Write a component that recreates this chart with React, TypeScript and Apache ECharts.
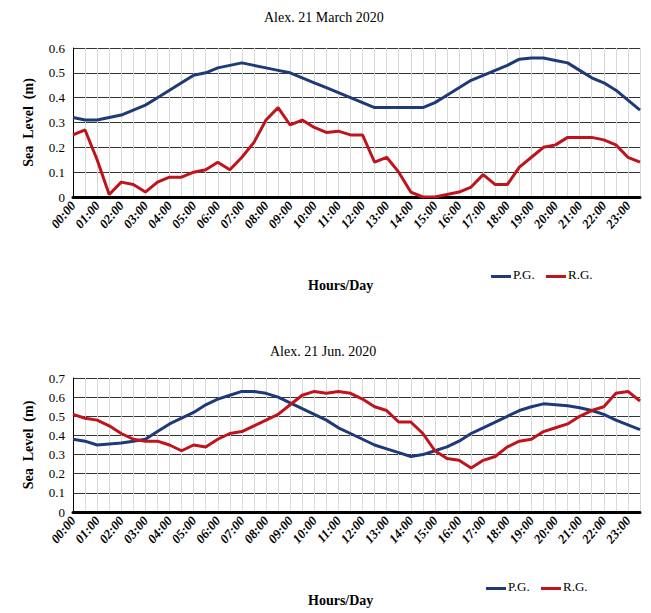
import React, { useEffect, useRef } from "react";
import * as echarts from "echarts";

const times: string[] = [];
for (let h = 0; h < 24; h++) { const hh = String(h).padStart(2, "0"); times.push(hh + ":00", hh + ":30"); }

const marchPG = [0.32,0.31,0.31,0.32,0.33,0.35,0.37,0.40,0.43,0.46,0.49,0.50,0.52,0.53,0.54,0.53,0.52,0.51,0.50,0.48,0.46,0.44,0.42,0.40,0.38,0.36,0.36,0.36,0.36,0.36,0.38,0.41,0.44,0.47,0.49,0.51,0.53,0.555,0.56,0.56,0.55,0.54,0.51,0.48,0.46,0.43,0.39,0.35];
const marchRG = [0.25,0.27,0.15,0.01,0.06,0.05,0.02,0.06,0.08,0.08,0.10,0.11,0.14,0.11,0.16,0.22,0.31,0.36,0.29,0.31,0.28,0.26,0.265,0.25,0.25,0.14,0.16,0.10,0.02,0.00,0.00,0.01,0.02,0.04,0.09,0.05,0.05,0.12,0.16,0.20,0.21,0.24,0.24,0.24,0.23,0.21,0.16,0.14];
const junePG = [0.38,0.37,0.35,0.355,0.36,0.37,0.38,0.42,0.46,0.49,0.52,0.56,0.59,0.61,0.63,0.63,0.62,0.60,0.57,0.54,0.51,0.48,0.44,0.41,0.38,0.35,0.33,0.31,0.29,0.30,0.32,0.34,0.37,0.41,0.44,0.47,0.50,0.53,0.55,0.565,0.56,0.555,0.545,0.53,0.51,0.48,0.455,0.43];
const juneRG = [0.51,0.49,0.48,0.45,0.41,0.38,0.37,0.37,0.35,0.32,0.35,0.34,0.38,0.41,0.42,0.45,0.48,0.51,0.56,0.61,0.63,0.62,0.63,0.62,0.59,0.55,0.53,0.47,0.47,0.41,0.32,0.28,0.27,0.23,0.27,0.29,0.34,0.37,0.38,0.42,0.44,0.46,0.50,0.53,0.55,0.62,0.63,0.58];

const FONT = "Liberation Serif";
const BLUE = "#1f3a78";
const RED = "#c0141c";

export default function App() {
  const ref = useRef<HTMLDivElement>(null);
  useEffect(() => {
    document.body.style.overflow = "hidden";
    const chart = echarts.init(ref.current!, undefined, { renderer: "svg" });
    const xAxis = (gi: number) => ({
      type: "category", gridIndex: gi, data: times, boundaryGap: false,
      axisLine: { lineStyle: { color: "#000", width: 3 } },
      axisTick: { show: false },
      splitLine: { show: true, interval: 0, lineStyle: { color: "#d8d8d8", width: 1 } },
      axisLabel: { interval: 1, rotate: 50, fontFamily: FONT, fontStyle: "italic", fontWeight: "bold", fontSize: 13, color: "#000", margin: 6 },
    });
    const yAxis = (gi: number, max: number) => ({
      type: "value", gridIndex: gi, min: 0, max, interval: 0.1,
      name: "Sea  Level  (m)", nameLocation: "middle", nameGap: 38,
      nameTextStyle: { fontFamily: FONT, fontWeight: "bold", fontSize: 14, color: "#000" },
      axisLine: { show: true, lineStyle: { color: "#000" } },
      axisTick: { show: false },
      splitLine: { lineStyle: { color: "#333", width: 1 } },
      axisLabel: { fontFamily: FONT, fontSize: 13, color: "#000", formatter: (v: number) => String(Math.round(v * 10) / 10) },
    });
    const line = (name: string, xi: number, data: number[], color: string) => ({
      type: "line", name, xAxisIndex: xi, yAxisIndex: xi, data, showSymbol: false, symbol: "none",
      lineStyle: { color, width: 3 }, itemStyle: { color },
    });
    const text = (t: string, x: number, y: number, size: number, bold = false) => ({
      type: "text", left: x, top: y,
      style: { text: t, fontFamily: FONT, fontSize: size, fontWeight: bold ? "bold" : "normal", fill: "#000" },
    });
    const legend = (x: number, y: number) => [
      { type: "rect", left: x, top: y + 7, shape: { width: 20, height: 3 }, style: { fill: BLUE } },
      text("P.G.", x + 22, y, 13),
      { type: "rect", left: x + 55, top: y + 7, shape: { width: 20, height: 3 }, style: { fill: RED } },
      text("R.G.", x + 77, y, 13),
    ];
    chart.setOption({
      animation: false,
      grid: [
        { left: 65, right: 3, top: 40, height: 149 },
        { left: 65, right: 3, top: 370, height: 134 },
      ],
      xAxis: [xAxis(0), xAxis(1)],
      yAxis: [yAxis(0, 0.6), yAxis(1, 0.7)],
      graphic: [
        text("Alex. 21 March 2020", 256, 2, 14),
        text("Alex. 21 Jun. 2020", 262, 336, 14),
        text("Hours/Day", 300, 270, 14, true),
        text("Hours/Day", 300, 585, 14, true),
        ...legend(483, 260),
        ...legend(478, 572),
      ],
      series: [
        line("P.G.", 0, marchPG, BLUE), line("R.G.", 0, marchRG, RED),
        line("P.G. ", 1, junePG, BLUE), line("R.G. ", 1, juneRG, RED),
      ],
    });
    return () => chart.dispose();
  }, []);
  return <div ref={ref} style={{ width: 635, height: 605 }} />;
}
